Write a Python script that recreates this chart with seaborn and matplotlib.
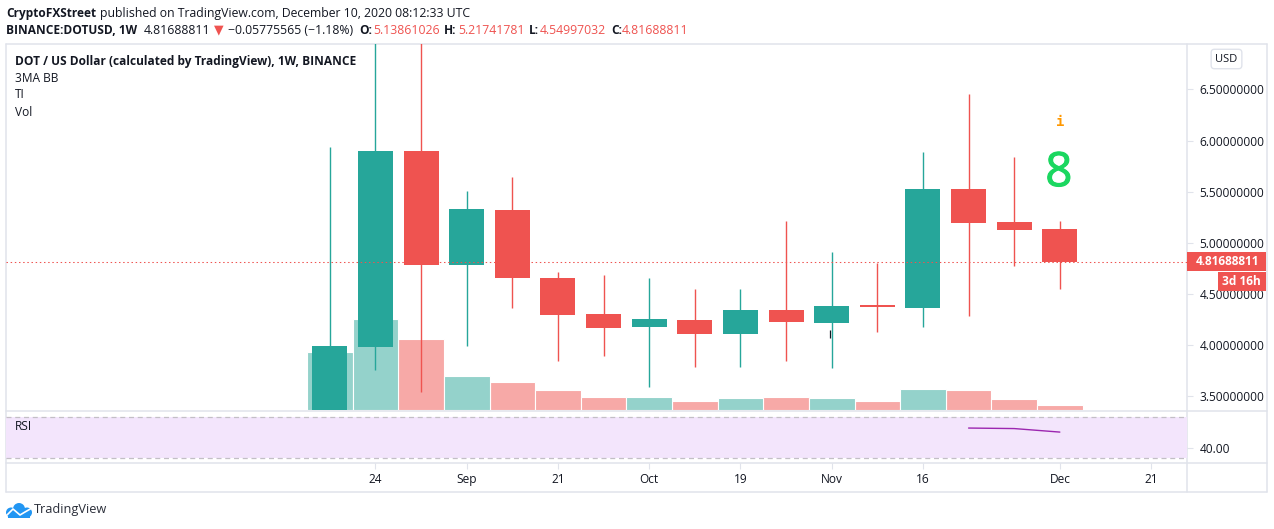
import matplotlib
matplotlib.use("Agg")
import matplotlib.pyplot as plt
import matplotlib.patheffects as pe
import pandas as pd
import seaborn as sns
from matplotlib.lines import Line2D
from matplotlib.patches import Ellipse, Rectangle

W, H = 1274, 529

# weekly candles
weeks = list(range(17))
opens = [3.20, 3.982, 5.898, 4.783, 5.321, 4.656, 4.304, 4.177, 4.246, 4.109, 4.344, 4.216, 4.392, 4.363, 5.526, 5.204, 5.13861026]
highs = [5.937, 7.60, 7.60, 5.507, 5.644, 4.715, 4.686, 4.656, 4.549, 4.549, 5.214, 4.911, 4.803, 5.889, 6.455, 5.840, 5.21741781]
lows = [3.20, 3.757, 3.542, 3.992, 4.363, 3.845, 3.894, 3.591, 3.786, 3.786, 3.845, 3.777, 4.129, 4.177, 4.285, 4.774, 4.54997032]
closes = [3.992, 5.898, 4.783, 5.331, 4.656, 4.295, 4.168, 4.256, 4.109, 4.344, 4.226, 4.383, 4.374, 5.526, 5.195, 5.126, 4.81688811]
volumes = [58, 91, 71, 34, 28, 20, 13, 13, 9, 12, 13, 12, 9, 21, 20, 11, 5]

rsi_weeks = [14, 15, 16]
rsi_values = [58.9, 58.4, 55.0]

last_price = 4.81688811
price_ticks = [3.5, 4.0, 4.5, 5.0, 5.5, 6.0, 6.5]
time_ticks = [1, 3, 5, 7, 9, 11, 13, 16, 18]
time_labels = ["24", "Sep", "21", "Oct", "19", "Nov", "16", "Dec", "21"]

# header pieces: text, left pixel, colour, bold
line_one = [("CryptoFXStreet", 6, "#131722", True),
            ("published on TradingView.com, December 10, 2020 08:12:33 UTC", 100, "#131722", False)]
line_two = [("BINANCE:DOTUSD, 1W", 6, "#131722", True),
            ("4.81688811", 144, "#131722", False),
            ("\u22120.05775565 (\u22121.18%)", 228, "#131722", False),
            ("O:", 359, "#131722", True), ("5.13861026", 373, "#EF5350", False),
            ("H:", 444, "#131722", True), ("5.21741781", 458, "#EF5350", False),
            ("L:", 529, "#131722", True), ("4.54997032", 540, "#EF5350", False),
            ("C:", 611, "#131722", True), ("4.81688811", 622, "#EF5350", False)]
study_names = ["3MA BB", "TI", "Vol"]

GREEN = "#26A69A"
RED = "#EF5350"
TEXT = "#131722"
GRID = "#E0E3EB"
FONT = "Open Sans"

sns.set_theme(style="white")
plt.rcParams["font.family"] = [FONT, "DejaVu Sans"]


def rect_px(left, top, right, bottom):
    return [left / W, 1 - bottom / H, (right - left) / W, (bottom - top) / H]


def fx(x):
    return x / W


def fy(y):
    return 1 - y / H


def label(x, y, s, **kw):
    kw.setdefault("fontsize", 8.6)
    kw.setdefault("color", TEXT)
    kw.setdefault("va", "center")
    fig.text(fx(x), fy(y), s, **kw)


df = pd.DataFrame({"week": weeks, "open": opens, "high": highs, "low": lows,
                   "close": closes, "volume": volumes})
df["up"] = df["close"] >= df["open"]
df["colour"] = df["up"].map({True: GREEN, False: RED})

fig = plt.figure(figsize=(W / 100, H / 100), dpi=100, facecolor="white")
xlim = (-7.097, 18.787)

# volume sits under the candles, in the same pane
ax_vol = fig.add_axes(rect_px(6, 44, 1187, 410), zorder=1)
sns.barplot(data=df, x="week", y="volume", hue="up", palette={True: "#94D2CB", False: "#F7A9A7"},
            dodge=False, native_scale=True, width=1, errorbar=None, legend=False, saturation=1,
            edgecolor="white", linewidth=0.8, ax=ax_vol)
ax_vol.set_xlim(xlim)
ax_vol.set_ylim(0, 366)
ax_vol.axis("off")

ax = fig.add_axes(rect_px(6, 44, 1187, 410), zorder=2, facecolor="none")
ax.vlines(df["week"], df["low"], df["high"], colors=df["colour"], linewidth=1.0, zorder=2)
ax.bar(df["week"], df["close"] - df["open"], bottom=df["open"], width=0.767,
       color=df["colour"], linewidth=0, zorder=3)
ax.axhline(last_price, color=RED, linewidth=0.75, linestyle=(0, (1.4, 2.6)), zorder=4)
ax.vlines([10.97], [4.07], [4.148], colors="#131722", linewidth=0.9, zorder=5)
ax.text(16, 6.18, "i", color="#FF9800", fontsize=10, fontweight="bold", ha="center", va="center",
        family="DejaVu Sans Mono")
ax.text(15.98, 5.68, "8", color="#1BD760", fontsize=34, ha="center", va="center", family="Open Sans",
        path_effects=[pe.withStroke(linewidth=0.8, foreground="#1BD760")])
ax.set_xlim(xlim)
ax.set_ylim(3.366, 6.944)
ax.set_xticks([])
ax.yaxis.tick_right()
ax.set_yticks(price_ticks)
ax.set_yticklabels([f"{p:.8f}" for p in price_ticks])
ax.tick_params(axis="y", length=4, width=0.8, color=GRID, pad=5, labelsize=8.6, labelcolor=TEXT, right=True)
sns.despine(ax=ax, left=True, bottom=True, top=True, right=True)

# RSI pane, the 30 and 70 lines are the dashed ones
ax_rsi = fig.add_axes(rect_px(6, 410, 1187, 463), zorder=2, facecolor="none")
ax_rsi.axhspan(30, 70, color="#F3E5FC", linewidth=0, zorder=0)
for level in (30, 70):
    ax_rsi.axhline(level, color="#C3BFC6", linewidth=0.9, linestyle=(0, (4, 3)), zorder=1)
sns.lineplot(x=rsi_weeks, y=rsi_values, color="#9C27B0", linewidth=1.0, ax=ax_rsi, zorder=3)
ax_rsi.set_xlim(xlim)
ax_rsi.set_ylim(25.2, 76.3)
ax_rsi.yaxis.tick_right()
ax_rsi.set_yticks([40])
ax_rsi.set_yticklabels(["40.00"])
ax_rsi.set_xticks(time_ticks)
ax_rsi.set_xticklabels(time_labels)
ax_rsi.tick_params(axis="y", length=4, width=0.8, color=GRID, pad=5, labelsize=8.6, labelcolor=TEXT, right=True)
ax_rsi.tick_params(axis="x", length=4, width=0.8, color=GRID, pad=3.5, labelsize=8.6, labelcolor=TEXT, bottom=True)
sns.despine(ax=ax_rsi, left=True, bottom=True, top=True, right=True)

# outer frame and pane separators
for x0, y0, x1, y1 in [(6, 44, 1267, 44), (6, 492, 1267, 492), (6, 44, 6, 492), (1267, 44, 1267, 492),
                       (1187, 44, 1187, 492), (6, 410.5, 1267, 410.5), (6, 463, 1267, 463)]:
    fig.add_artist(Line2D([fx(x0), fx(x1)], [fy(y0), fy(y1)], color=GRID, linewidth=1.1, zorder=1))

# header
for s, x, colour, bold in line_one:
    label(x, 13, s, color=colour, fontweight="bold" if bold else "normal", fontsize=8.6 if bold else 8.8)
for s, x, colour, bold in line_two:
    label(x, 30, s, color=colour, fontweight="bold" if bold else "normal", fontsize=8.6 if bold else 8.8)
label(214, 30, "\u25BC", color=RED, fontsize=9, family="DejaVu Sans")

label(15, 61, "DOT / US Dollar (calculated by TradingView), 1W, BINANCE", fontweight="bold")
for s, y in zip(study_names, [78, 95, 112]):
    label(15, y, s)
label(15, 427, "RSI")

# price badges
fig.add_artist(Rectangle((fx(1187), fy(270.5)), 79 / W, 18.5 / H, color=RED, linewidth=0, zorder=4,
                         transform=fig.transFigure))
label(1196, 261.5, "4.81688811", color="white", fontweight="bold", zorder=5)
fig.add_artist(Rectangle((fx(1218), fy(291)), 48 / W, 19 / H, color=RED, linewidth=0, zorder=4,
                         transform=fig.transFigure))
label(1222, 281.5, "3d 16h", color="white", fontweight="bold", zorder=5)

label(1226.5, 59, "USD", ha="center", fontsize=8, zorder=5,
      bbox=dict(boxstyle="round,pad=0.38,rounding_size=0.3", facecolor="white", edgecolor=GRID, linewidth=1))

# TradingView cloud in the footer
logo = "#2196F3"
for cx, cy, r in [(11, 512.5, 5), (19, 509, 6), (27, 512.5, 5)]:
    fig.add_artist(Ellipse((fx(cx), fy(cy)), 2 * r / W, 2 * r / H, color=logo, linewidth=0,
                           transform=fig.transFigure, zorder=2))
fig.add_artist(Rectangle((fx(8), fy(517.5)), 22 / W, 6 / H, color=logo, linewidth=0, transform=fig.transFigure, zorder=2))
fig.add_artist(Line2D([fx(6), fx(13), fx(20), fx(25), fx(32)], [fy(516), fy(509), fy(515), fy(512), fy(508)],
                      color="white", linewidth=1.2, zorder=3))
label(34, 510, "TradingView", fontsize=9.2, color="#2A2E39")

fig.savefig("out.png", dpi=100)
